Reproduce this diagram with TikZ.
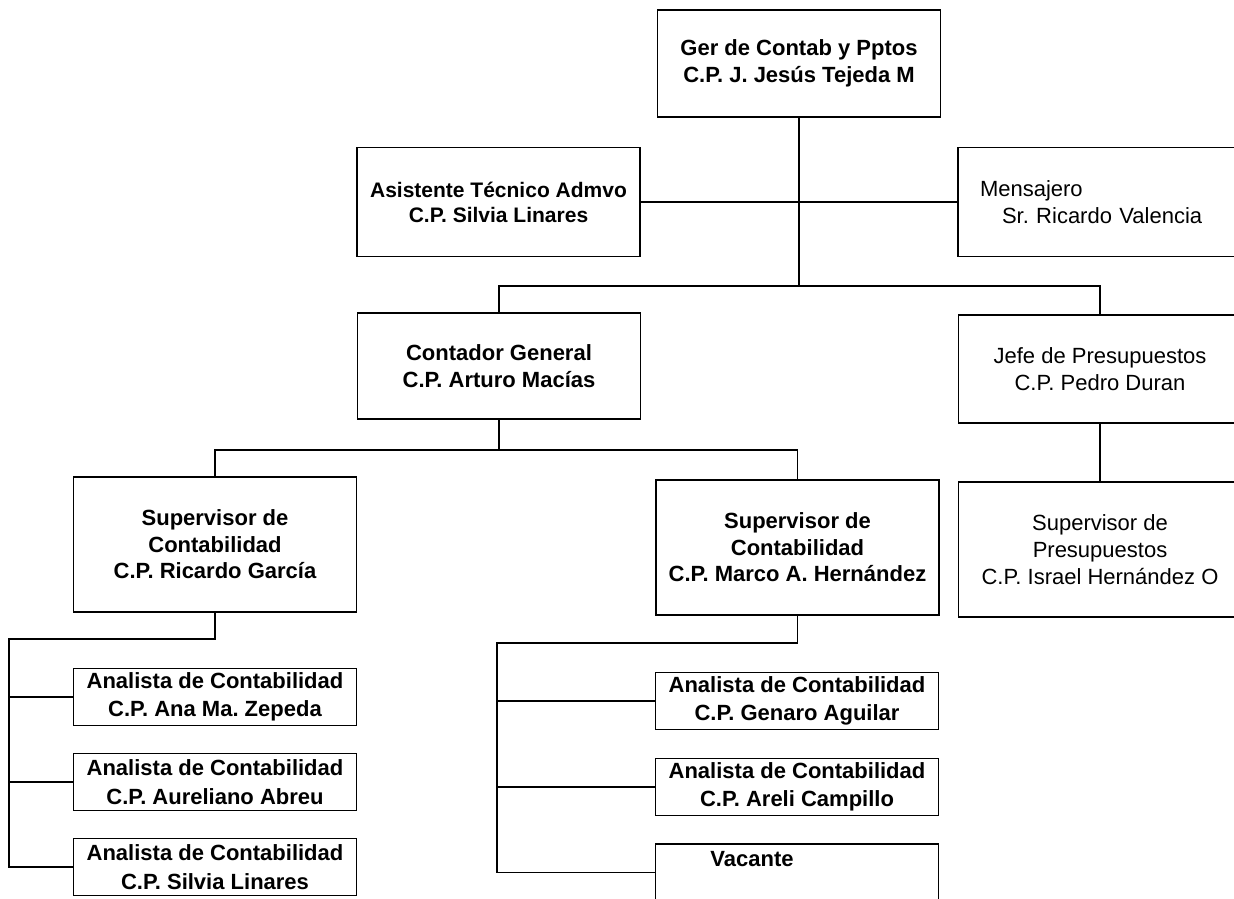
\documentclass[tikz,border=0pt]{standalone}
\usepackage{fontspec}
\setmainfont{Liberation Sans}
\frenchspacing
\begin{document}
\begin{tikzpicture}[x=1pt,y=-1pt,
  box/.style={draw, line width=1.3pt, minimum width=283pt, inner sep=2pt, align=center,
    font=\fontsize{22}{26.5}\selectfont\bfseries},
  plainbox/.style={box, font=\fontsize{22}{27}\selectfont},
  smallbox/.style={box, minimum height=57pt, font=\fontsize{22}{28.5}\selectfont\bfseries},
  link/.style={line width=1.3pt}]
\useasboundingbox (0,0) rectangle (1234,898);
\begin{scope}
\clip (0,0) rectangle (1234,898);
% boxes
\node[box, minimum height=107pt] (ger) at (799,63.5) {Ger de Contab y Pptos\\C.P. J. Jesús Tejeda M};
\node[box, minimum height=109pt, font=\fontsize{21}{25}\selectfont\bfseries] (asis) at (498.5,202) {Asistente Técnico Admvo\\C.P. Silvia Linares};
\node[plainbox, minimum height=109pt, text width=240pt, align=left, inner xsep=22pt] (mens) at (1100,202) {Mensajero\\\hspace*{22pt}Sr. Ricardo Valencia};
\node[box, minimum height=106pt] (cont) at (499,366) {Contador General\\C.P. Arturo Macías};
\node[plainbox, minimum height=108pt] (jefe) at (1100,369) {Jefe de Presupuestos\\C.P. Pedro Duran};
\node[box, minimum height=135pt] (sup1) at (215,544.5) {Supervisor de\\Contabilidad\\C.P. Ricardo García};
\node[box, minimum height=135pt] (sup2) at (797.5,547.5) {Supervisor de\\Contabilidad\\C.P. Marco A. Hernández};
\node[plainbox, minimum height=135pt] (supp) at (1100,549.5) {Supervisor de\\Presupuestos\\C.P. Israel Hernández O};
\node[smallbox] (a1) at (215,697) {Analista de Contabilidad\\C.P. Ana Ma. Zepeda};
\node[smallbox] (a2) at (215,782) {Analista de Contabilidad\\C.P. Aureliano Abreu};
\node[smallbox] (a3) at (215,867) {Analista de Contabilidad\\C.P. Silvia Linares};
\node[smallbox] (b1) at (797,701) {Analista de Contabilidad\\C.P. Genaro Aguilar};
\node[smallbox] (b2) at (797,787) {Analista de Contabilidad\\C.P. Areli Campillo};
\node[smallbox] (b3) at (797,872.5) {};
\node[font=\fontsize{22}{26}\selectfont\bfseries, inner sep=0pt] (vac) at (752,859) {Vacante};
% junction points
\coordinate (bus1) at (799,286);
\coordinate (bus2) at (499,450);
\coordinate (bus3) at (9,639);
\coordinate (bus4) at (497,643);
% connectors
\draw[link] (ger.south) -- (bus1);
\draw[link] (asis.east |- mens.west) -- (mens.west);
\draw[link] (cont.north) |- (bus1) -| (jefe.north);
\draw[link] (cont.south) -- (bus2);
\draw[link] (sup1.north) |- (bus2) -| (sup2.north);
\draw[link] (jefe.south) -- (supp.north);
\draw[link] (sup1.south) |- (bus3) |- (a3.west);
\draw[link] (bus3 |- a1.west) -- (a1.west);
\draw[link] (bus3 |- a2.west) -- (a2.west);
\draw[link] (sup2.south) |- (bus4) |- (b3.west);
\draw[link] (bus4 |- b1.west) -- (b1.west);
\draw[link] (bus4 |- b2.west) -- (b2.west);
\end{scope}
\end{tikzpicture}
\end{document}
